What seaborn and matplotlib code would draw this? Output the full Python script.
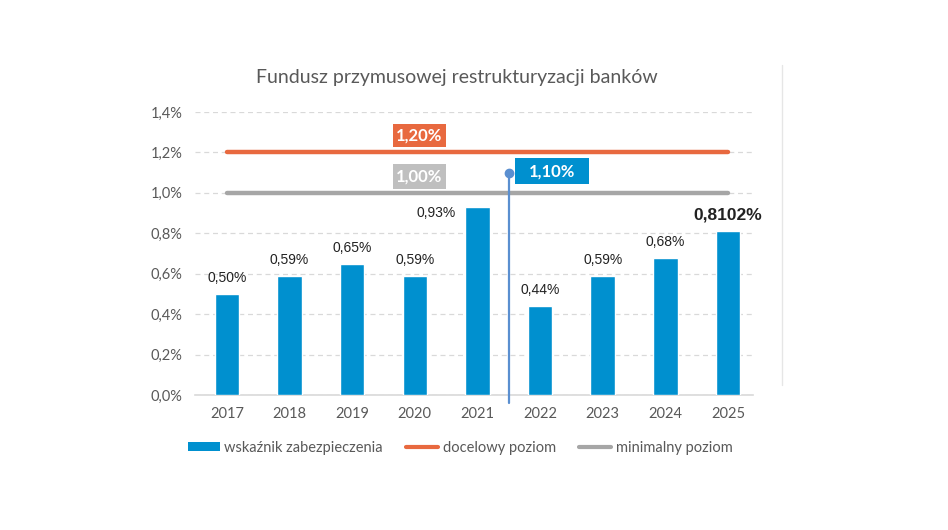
import matplotlib
matplotlib.use("Agg")
import matplotlib.pyplot as plt
import seaborn as sns
import pandas as pd
from matplotlib.patches import Patch, Rectangle
from matplotlib.lines import Line2D

# ---- data ----
years = ["2017", "2018", "2019", "2020", "2021", "2022", "2023", "2024", "2025"]
values = [0.50, 0.59, 0.65, 0.59, 0.93, 0.44, 0.59, 0.68, 0.8102]
value_labels = ["0,50%", "0,59%", "0,65%", "0,59%", "0,93%", "0,44%", "0,59%", "0,68%", "0,8102%"]
target_level = 1.20
minimum_level = 1.00
marker_level = 1.10
target_label = "1,20%"
minimum_label = "1,00%"
marker_label = "1,10%"
yticks = [0.0, 0.2, 0.4, 0.6, 0.8, 1.0, 1.2, 1.4]
ytick_labels = ["0,0%", "0,2%", "0,4%", "0,6%", "0,8%", "1,0%", "1,2%", "1,4%"]
title = "Fundusz przymusowej restrukturyzacji banków"
legend_labels = ["wskaźnik zabezpieczenia", "docelowy poziom", "minimalny poziom"]

BLUE = "#0090CF"
ORANGE = "#E8693F"
GREY = "#A6A6A6"
GREY_BOX = "#BFBFBF"
VLINE = "#5A8FD0"
TXT = "#595959"

sns.set_theme(style="white")
plt.rcParams["font.family"] = ["Liberation Sans", "DejaVu Sans"]

fig = plt.figure(figsize=(9.48, 5.30), dpi=100)
ax = fig.add_axes([195 / 948, 1 - 395 / 530, (753 - 195) / 948, (395 - 112) / 530])

df = pd.DataFrame({"year": years, "value": values})
sns.barplot(data=df, x="year", y="value", color=BLUE, width=0.39, saturation=1,
            ax=ax, zorder=3)

n = len(years)
ax.set_xlim(-0.51, 8.40)
ax.set_ylim(0, 1.4)
ax.set_yticks(yticks)
ax.set_yticklabels(ytick_labels)
ax.set_xlabel("")
ax.set_ylabel("")
for s in ["top", "right", "left"]:
    ax.spines[s].set_visible(False)
ax.spines["bottom"].set_color("#D9D9D9")
ax.spines["bottom"].set_linewidth(1.2)
ax.spines["bottom"].set_zorder(2)
ax.yaxis.grid(True, linestyle=(0, (4, 3)), color="#D9D9D9", linewidth=0.9, zorder=0)
ax.set_axisbelow(True)
ax.tick_params(axis="both", length=0, colors=TXT, labelsize=10)
ax.tick_params(axis="y", pad=9)
ax.tick_params(axis="x", pad=9)
for t in ax.get_xticklabels() + ax.get_yticklabels():
    t.set_fontfamily(["Lato", "DejaVu Sans"])
    t.set_fontsize(10.5)

# reference lines
ax.plot([0, n - 1], [target_level, target_level], color=ORANGE, lw=3.2,
        solid_capstyle="round", zorder=4)
ax.plot([0, n - 1], [minimum_level, minimum_level], color=GREY, lw=3.2,
        solid_capstyle="round", zorder=4)

# vertical divider between 2021 and 2022
ax.plot([4.5, 4.5], [marker_level, -0.04], color=VLINE, lw=1.6, zorder=5, clip_on=False)
ax.plot([4.5], [marker_level], marker="o", color=VLINE, markersize=6, zorder=6)

# boxed labels (box geometry in data units of the chart)
def boxed(x0, x1, y0, y1, color, text):
    ax.add_patch(Rectangle((x0, y0), x1 - x0, y1 - y0, facecolor=color, edgecolor="none",
                           zorder=6))
    ax.text((x0 + x1) / 2, (y0 + y1) / 2, text, ha="center", va="center", color="white",
            fontsize=12, fontweight="bold", fontfamily=["Lato", "DejaVu Sans"], zorder=7)

boxed(2.65, 3.50, target_level + 0.025, target_level + 0.143, ORANGE, target_label)
boxed(2.65, 3.50, minimum_level + 0.019, minimum_level + 0.142, GREY_BOX, minimum_label)
boxed(4.60, 5.78, marker_level - 0.057, marker_level + 0.071, BLUE, marker_label)

# data labels
for i, (v, lab) in enumerate(zip(values, value_labels)):
    if i == 4:
        ax.annotate(lab, (i, v), xytext=(-30, -4), textcoords="offset points",
                    ha="center", va="center", fontsize=10, color="#222222")
    elif i == n - 1:
        ax.annotate(lab, (i, v), xytext=(0, 12), textcoords="offset points",
                    ha="center", va="center", fontsize=12.5, fontweight="bold",
                    color="#222222")
    else:
        ax.annotate(lab, (i, v), xytext=(0, 11.5), textcoords="offset points",
                    ha="center", va="center", fontsize=10, color="#222222")

# title
fig.text(457 / 948, 1 - 78 / 530, title, ha="center", va="center", fontsize=14,
         color=TXT, fontfamily=["Lato", "DejaVu Sans"])

# legend
handles = [
    Patch(facecolor=BLUE, edgecolor="none"),
    Line2D([0], [0], color=ORANGE, lw=3),
    Line2D([0], [0], color=GREY, lw=3),
]
leg = fig.legend(handles, legend_labels, loc="center", bbox_to_anchor=(460 / 948, 1 - 448 / 530),
                 ncol=3, frameon=False, fontsize=10.5, handlelength=2.2, handleheight=0.55,
                 handletextpad=0.3, columnspacing=1.6)
for t in leg.get_texts():
    t.set_color(TXT)
    t.set_fontfamily(["Lato", "DejaVu Sans"])

# faint right border line
fig.add_artist(Line2D([782 / 948, 782 / 948], [1 - 65 / 530, 1 - 385 / 530],
                      color="#E6E6E6", lw=1, transform=fig.transFigure))

fig.savefig("out.png", dpi=100, facecolor="white")
